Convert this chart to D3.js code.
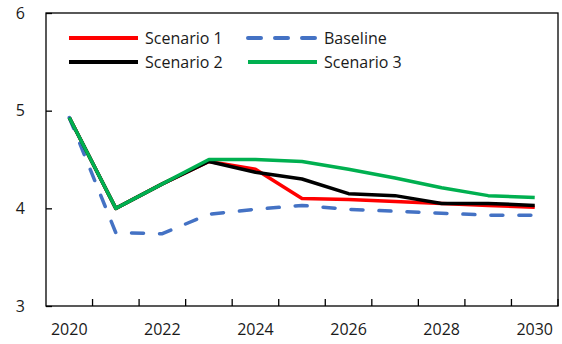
<!DOCTYPE html>
<html>
<head>
<meta charset="utf-8">
<script src="https://cdn.jsdelivr.net/npm/d3@7"></script>
<style>
  html, body { margin: 0; padding: 0; background: #fff; }
  svg { display: block; }
  text { font-family: "Open Sans", "Liberation Sans", sans-serif; fill: #1a1a1a; }
</style>
</head>
<body>
<svg id="chart" width="562" height="344"></svg>
<script>
// Years on the category axis
const years = [2020, 2021, 2022, 2023, 2024, 2025, 2026, 2027, 2028, 2029, 2030];
const xTickLabels = [2020, 2022, 2024, 2026, 2028, 2030];
const yTicks = [3, 4, 5, 6];

// Series values
const scenario1 = [4.93, 4.00, 4.25, 4.48, 4.40, 4.10, 4.09, 4.07, 4.05, 4.03, 4.01];
const baseline  = [4.93, 3.75, 3.74, 3.94, 3.99, 4.03, 3.99, 3.97, 3.95, 3.93, 3.93];
const scenario2 = [4.93, 4.00, 4.25, 4.48, 4.37, 4.30, 4.15, 4.13, 4.05, 4.05, 4.03];
const scenario3 = [4.93, 4.00, 4.25, 4.50, 4.50, 4.48, 4.40, 4.31, 4.21, 4.13, 4.11];

const series = [
  { name: "Scenario 1", values: scenario1, color: "#ff0000", dash: null },
  { name: "Baseline",   values: baseline,  color: "#4472c4", dash: "12,16" },
  { name: "Scenario 2", values: scenario2, color: "#000000", dash: null },
  { name: "Scenario 3", values: scenario3, color: "#00b050", dash: null }
];

const plot = { left: 46, right: 558, top: 13, bottom: 306 };
const svg = d3.select("#chart");

const x = d3.scaleBand().domain(years).range([plot.left, plot.right]);
const y = d3.scaleLinear().domain([3, 6]).range([plot.bottom, plot.top]);
const cx = d => x(d) + x.bandwidth() / 2;

// Frame
svg.append("rect")
  .attr("x", plot.left).attr("y", plot.top)
  .attr("width", plot.right - plot.left).attr("height", plot.bottom - plot.top)
  .attr("fill", "none").attr("stroke", "#000").attr("stroke-width", 1.3);

// Y axis ticks (inward) and labels
const yAxis = d3.axisLeft(y).tickValues(yTicks).tickSize(-6).tickPadding(21).tickFormat(d3.format("d"));
const gy = svg.append("g").attr("transform", `translate(${plot.left},0)`).call(yAxis);
gy.select(".domain").remove();
gy.selectAll("line").attr("stroke", "#000").attr("stroke-width", 1.3);
gy.selectAll("text").attr("font-size", 16).style("fill", "#1a1a1a");

// X axis: tick marks between categories, labels every other year
const edges = years.slice(1).map(d => x(d)).concat([plot.right]);
svg.append("g").selectAll("line").data(edges).join("line")
  .attr("x1", d => d).attr("x2", d => d)
  .attr("y1", plot.bottom).attr("y2", plot.bottom - 7)
  .attr("stroke", "#000").attr("stroke-width", 1.3);

svg.append("g").selectAll("text").data(xTickLabels).join("text")
  .attr("x", d => cx(d)).attr("y", 335)
  .attr("text-anchor", "middle").attr("font-size", 16)
  .text(d => d);

// Lines
const line = d3.line().x((d, i) => cx(years[i])).y(d => y(d));
svg.append("g").selectAll("path").data(series).join("path")
  .attr("d", s => line(s.values))
  .attr("fill", "none")
  .attr("stroke", s => s.color)
  .attr("stroke-width", 3.5)
  .attr("stroke-linejoin", "round")
  .attr("stroke-linecap", s => s.dash ? "round" : "butt")
  .attr("stroke-dasharray", s => s.dash);

// Legend
const legendPos = [
  { s: 0, x: 69,  y: 38 },
  { s: 1, x: 248, y: 38 },
  { s: 2, x: 69,  y: 62 },
  { s: 3, x: 248, y: 62 }
];
const lg = svg.append("g").selectAll("g").data(legendPos).join("g")
  .attr("transform", d => `translate(${d.x},${d.y})`);
lg.append("line")
  .attr("x1", 0).attr("x2", 69).attr("y1", 0).attr("y2", 0)
  .attr("stroke", d => series[d.s].color)
  .attr("stroke-width", 4)
  .attr("stroke-linecap", d => series[d.s].dash ? "round" : "butt")
  .attr("stroke-dasharray", d => series[d.s].dash ? "13,14" : null);
lg.append("text")
  .attr("x", 76).attr("y", 6)
  .attr("font-size", 16)
  .text(d => series[d.s].name);
</script>
</body>
</html>
